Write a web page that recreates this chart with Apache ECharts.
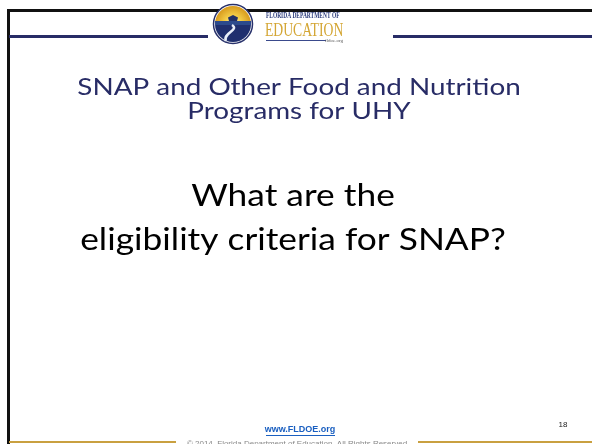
<!DOCTYPE html>
<html>
<head>
<meta charset="utf-8">
<script src="https://cdn.jsdelivr.net/npm/echarts@6/dist/echarts.min.js"></script>
<style>
  html, body { margin: 0; padding: 0; background: #fff; }
  #main { width: 592px; height: 444px; }
</style>
</head>
<body>
<div id="main"></div>
<script>
  // slide texts
  var titleLines = ['SNAP and Other Food and Nutrition', 'Programs for UHY'];
  var questionLines = ['What are the', 'eligibility criteria for SNAP?'];
  var logoLines = ['Florida Department of', 'EDUCATION', 'fldoe.org'];
  var footerLink = 'www.FLDOE.org';
  var footerCopy = '\u00a9 2014, Florida Department of Education. All Rights Reserved';
  var pageNumber = '18';

  var navy = '#282c66';
  var gold = '#c9a040';

  var myChart = echarts.init(document.getElementById('main'));

  var elements = [
    // frame lines
    {type: 'rect', shape: {x: 7, y: 9, width: 600, height: 3}, style: {fill: '#111'}},
    {type: 'rect', shape: {x: 7, y: 9, width: 3, height: 440}, style: {fill: '#111'}},
    {type: 'rect', shape: {x: 9, y: 35, width: 199, height: 3}, style: {fill: navy}},
    {type: 'rect', shape: {x: 393, y: 35, width: 200, height: 3}, style: {fill: navy}},
    {type: 'rect', shape: {x: 9, y: 441, width: 167, height: 2}, style: {fill: gold}},
    {type: 'rect', shape: {x: 418, y: 441, width: 175, height: 2}, style: {fill: gold}},

    // logo emblem
    {type: 'circle', shape: {cx: 233, cy: 24, r: 19.5}, style: {fill: '#fff', stroke: '#27306a', lineWidth: 1.5}},
    {type: 'sector', shape: {cx: 233, cy: 24, r0: 0, r: 18, startAngle: Math.PI, endAngle: Math.PI * 2},
      style: {fill: new echarts.graphic.RadialGradient(0.5, 1, 1, [
        {offset: 0, color: '#fffbe0'}, {offset: 0.45, color: '#f5cf4a'}, {offset: 1, color: '#d79a1c'}])}},
    {type: 'sector', shape: {cx: 233, cy: 24, r0: 0, r: 18, startAngle: 0, endAngle: Math.PI},
      style: {fill: '#1f2f6e'}},
    {type: 'rect', shape: {x: 215, y: 21, width: 36, height: 4}, style: {fill: '#2c4a8c'}},
    {type: 'polygon', shape: {points: [[229, 21], [237, 21], [238, 17.5], [233, 15], [228, 17.5]]}, style: {fill: '#223066'}},
    {type: 'bezierCurve', shape: {x1: 232, y1: 25, x2: 226, y2: 41, cpx1: 240, cpy1: 30, cpx2: 222, cpy2: 33},
      style: {stroke: '#e8eef8', lineWidth: 2.5, fill: null}},

    // logo text
    {type: 'text', x: 266, y: 16, scaleX: 0.68,
      style: {text: logoLines[0].toUpperCase(), font: 'bold 8px "Liberation Serif"', fill: '#2a3a7a', textVerticalAlign: 'middle'}},
    {type: 'text', x: 265, y: 31, scaleX: 0.72,
      style: {text: logoLines[1], font: '19px "Liberation Serif"', fill: '#d4a634', textVerticalAlign: 'middle'}},
    {type: 'rect', shape: {x: 266, y: 40, width: 60, height: 1}, style: {fill: '#3a4a8c'}},
    {type: 'text', x: 343, y: 41, style: {text: logoLines[2], font: '5px "Liberation Serif"', fill: '#555', textAlign: 'right', textVerticalAlign: 'middle'}},

    // footer
    {type: 'text', x: 300, y: 430, style: {text: footerLink, font: 'bold 9px "Liberation Sans"', fill: '#1a5fc0', textAlign: 'center', textVerticalAlign: 'middle'}},
    {type: 'rect', shape: {x: 266, y: 435, width: 69, height: 1}, style: {fill: '#1a5fc0'}},
    {type: 'text', x: 297, y: 444, style: {text: footerCopy, font: '8px "Liberation Sans"', fill: '#888', textAlign: 'center', textVerticalAlign: 'middle'}},
    {type: 'text', x: 563, y: 425, style: {text: pageNumber, font: '8px "Liberation Sans"', fill: '#222', textAlign: 'center', textVerticalAlign: 'middle'}}
  ];

  titleLines.forEach(function (line, i) {
    elements.push({type: 'text', x: 299, y: 88 + i * 24, scaleX: 1.21,
      style: {text: line, font: '23px Lato', fill: navy, textAlign: 'center', textVerticalAlign: 'middle'}});
  });
  questionLines.forEach(function (line, i) {
    elements.push({type: 'text', x: 293, y: 196 + i * 44, scaleX: 1.14,
      style: {text: line, font: '31px Lato', fill: '#000', textAlign: 'center', textVerticalAlign: 'middle'}});
  });

  myChart.setOption({
    backgroundColor: '#fff',
    graphic: {elements: elements}
  });
</script>
</body>
</html>
